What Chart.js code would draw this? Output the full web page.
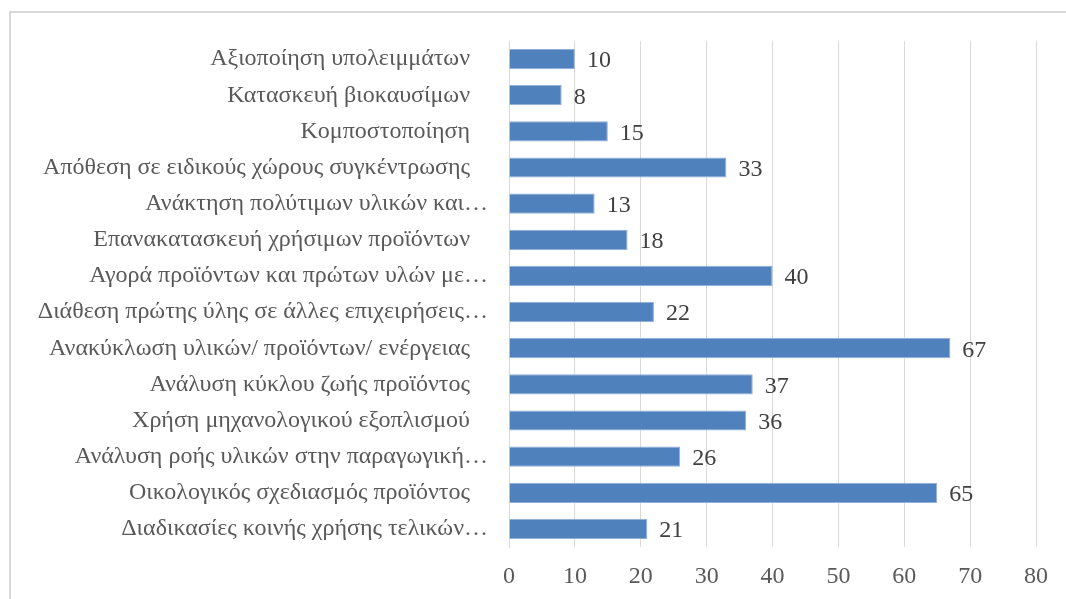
<!DOCTYPE html>
<html>
<head>
<meta charset="utf-8">
<script src="https://cdn.jsdelivr.net/npm/chart.js@4"></script>
<style>
html,body{margin:0;padding:0;background:#fff;}
#wrap{position:relative;width:1066px;height:599px;}
canvas{display:block;}
</style>
</head>
<body>
<div id="wrap"><canvas id="c" width="1066" height="599"></canvas></div>
<script>
const categories = [
  "Αξιοποίηση υπολειμμάτων   ",
  "Κατασκευή βιοκαυσίμων   ",
  "Κομποστοποίηση   ",
  "Απόθεση σε ειδικούς χώρους συγκέντρωσης   ",
  "Ανάκτηση πολύτιμων υλικών και…",
  "Επανακατασκευή χρήσιμων προϊόντων   ",
  "Αγορά προϊόντων και πρώτων υλών με…",
  "Διάθεση πρώτης ύλης σε άλλες επιχειρήσεις…",
  "Ανακύκλωση υλικών/ προϊόντων/ ενέργειας   ",
  "Ανάλυση κύκλου ζωής προϊόντος   ",
  "Χρήση μηχανολογικού εξοπλισμού   ",
  "Ανάλυση ροής υλικών στην παραγωγική…",
  "Οικολογικός σχεδιασμός προϊόντος   ",
  "Διαδικασίες κοινής χρήσης τελικών…"
];
const values = [10, 8, 15, 33, 13, 18, 40, 22, 67, 37, 36, 26, 65, 21];
const xTicks = [0, 10, 20, 30, 40, 50, 60, 70, 80];

const FONT = "'Liberation Serif', 'DejaVu Serif', serif";

const frame = {
  id: 'frame',
  beforeDraw(chart) {
    const ctx = chart.ctx;
    ctx.save();
    ctx.fillStyle = '#fff';
    ctx.fillRect(0, 0, chart.width, chart.height);
    ctx.strokeStyle = '#d9d9d9';
    ctx.lineWidth = 2;
    ctx.beginPath();
    ctx.moveTo(10, chart.height);
    ctx.lineTo(10, 12);
    ctx.lineTo(chart.width, 12);
    ctx.stroke();
    ctx.restore();
  }
};

const valueLabels = {
  id: 'valueLabels',
  afterDatasetsDraw(chart) {
    const ctx = chart.ctx;
    const meta = chart.getDatasetMeta(0);
    ctx.save();
    ctx.font = "24px " + FONT;
    ctx.fillStyle = '#404040';
    ctx.textAlign = 'left';
    ctx.textBaseline = 'middle';
    meta.data.forEach((bar, i) => {
      ctx.fillText(String(values[i]), bar.x + 12, bar.y + 2);
    });
    ctx.restore();
  }
};

new Chart(document.getElementById('c'), {
  type: 'bar',
  data: {
    labels: categories,
    datasets: [{
      data: values,
      backgroundColor: '#4f81bd',
      borderColor: '#8eb0da',
      borderWidth: 1,
      barPercentage: 0.56,
      categoryPercentage: 1.0
    }]
  },
  options: {
    indexAxis: 'y',
    responsive: false,
    animation: false,
    devicePixelRatio: 1,
    layout: { padding: { top: 41, right: 30, left: 0, bottom: 0 } },
    plugins: { legend: { display: false }, tooltip: { enabled: false } },
    scales: {
      x: {
        min: 0, max: 80,
        afterBuildTicks(scale) { scale.ticks = xTicks.map(v => ({ value: v })); },
        afterFit(scale) { scale.height = 52; },
        grid: { color: '#d9d9d9', lineWidth: 1, drawTicks: false },
        border: { display: false },
        ticks: { color: '#595959', font: { family: FONT, size: 24 }, padding: 15 }
      },
      y: {
        afterFit(scale) { scale.width = 509; },
        grid: { display: false, drawTicks: false },
        border: { display: true, color: '#d9d9d9', width: 1 },
        ticks: { color: '#595959', font: { family: FONT, size: 24 }, padding: 21, autoSkip: false }
      }
    }
  },
  plugins: [frame, valueLabels]
});
</script>
</body>
</html>
